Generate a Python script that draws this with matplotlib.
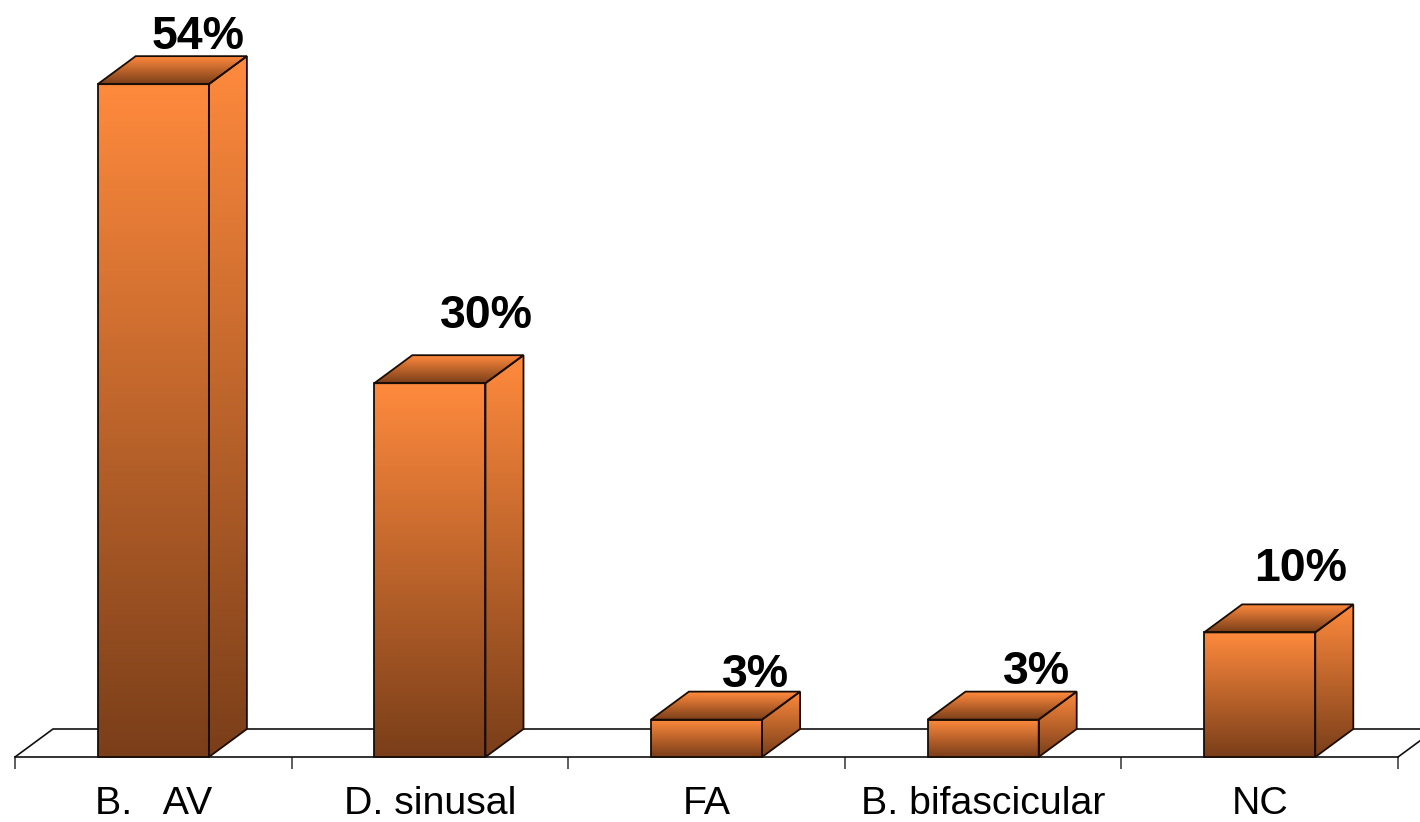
import numpy as np
import matplotlib
matplotlib.use("Agg")
import matplotlib.pyplot as plt
from matplotlib.colors import LinearSegmentedColormap
from matplotlib.patches import Polygon

categories = ["B.   AV", "D. sinusal", "FA", "B. bifascicular", "NC"]
values = [54, 30, 3, 3, 10]

# label offsets from the bar centre, in pixels
label_dx = [45, 57, 49, 53, 41]
label_dy = [35, 55, 33, 36, 51]

W, H = 1420, 822
PLOT_LEFT, PLOT_RIGHT, BASE = 15, 1398, 757
PX_PER_PCT = 12.46
BAR_WIDTH = 0.402
DEPTH_PX = (38, 28)

plt.rcParams["font.family"] = ["Liberation Sans", "DejaVu Sans"]
plt.rcParams["axes.linewidth"] = 1.2

fig = plt.figure(figsize=(W / 100, H / 100), dpi=100)
ax = fig.add_axes([PLOT_LEFT / W, (H - BASE) / H, (PLOT_RIGHT - PLOT_LEFT) / W, BASE / H])
ax.set_xlim(0, len(categories))
ax.set_ylim(0, BASE / PX_PER_PCT)
ax.set_axisbelow(True)

depth_x = DEPTH_PX[0] * len(categories) / (PLOT_RIGHT - PLOT_LEFT)
depth_y = DEPTH_PX[1] / PX_PER_PCT

cmap = LinearSegmentedColormap.from_list("bar", ["#FF8A3D", "#7A3E19"])


def shaded_face(corners, y_top, y_bottom):
    """Fill a polygon with a vertical orange-to-brown gradient."""
    poly = Polygon(corners, closed=True, facecolor="none", edgecolor="#1a0d05", lw=1.3, zorder=4, clip_on=False)
    ax.add_patch(poly)
    xs = [c[0] for c in corners]
    img = ax.imshow(np.linspace(0, 1, 256).reshape(-1, 1), cmap=cmap, aspect="auto", origin="upper",
                    extent=(min(xs), max(xs), y_bottom, y_top), zorder=3)
    img.set_clip_path(poly)


# floor of the 3d box
ax.plot([0, depth_x, len(categories) + depth_x], [0, depth_y, depth_y], color="#111111", lw=1.2,
        zorder=1, clip_on=False)
ax.plot([len(categories), len(categories) + depth_x], [0, depth_y], color="#111111", lw=1.2,
        zorder=1, clip_on=False)

for i, (val, dx, dy) in enumerate(zip(values, label_dx, label_dy)):
    cx = i + 0.5
    x0, x1 = cx - BAR_WIDTH / 2, cx + BAR_WIDTH / 2
    back = val + depth_y
    shaded_face([(x0, val), (x0 + depth_x, back), (x1 + depth_x, back), (x1, val)], back, val)
    shaded_face([(x1, 0), (x1 + depth_x, depth_y), (x1 + depth_x, back), (x1, val)], back, 0)
    shaded_face([(x0, 0), (x1, 0), (x1, val), (x0, val)], val, 0)
    ax.annotate(f"{val}%", (cx, val), xytext=(dx * 0.72, dy * 0.72), textcoords="offset points",
                ha="center", va="baseline", fontsize=33.5, fontweight="bold", color="black",
                zorder=6, annotation_clip=False)

ax.set_xlim(0, len(categories))
ax.set_ylim(0, BASE / PX_PER_PCT)

for side in ["top", "left", "right"]:
    ax.spines[side].set_visible(False)
ax.spines["bottom"].set_color("#111111")
ax.patch.set_visible(False)

ax.set_yticks([])
ax.set_xticks(range(len(categories) + 1))
ax.set_xticklabels([])
ax.tick_params(axis="x", which="major", length=8.6, width=1.1, color="#333333")
ax.set_xticks(np.arange(len(categories)) + 0.5, minor=True)
ax.set_xticklabels(categories, minor=True, fontsize=28.3, color="black")
ax.tick_params(axis="x", which="minor", length=0, pad=21)

fig.savefig("out.png", dpi=100, facecolor="white")
